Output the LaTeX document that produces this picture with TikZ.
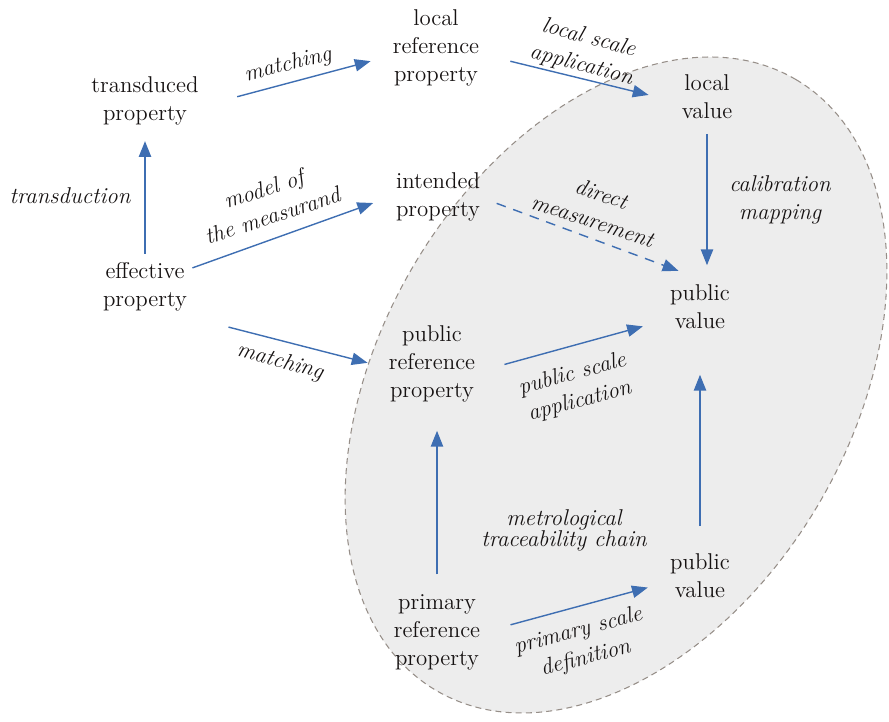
\documentclass[tikz,border=0pt]{standalone}
\usepackage{fontspec}
\usepackage{tikz}
\usetikzlibrary{arrows.meta,calc}

\definecolor{arrowblue}{RGB}{62,110,178}
\definecolor{zonegray}{RGB}{237,237,237}
\definecolor{zoneline}{RGB}{150,142,136}
\definecolor{inkdark}{RGB}{22,18,18}

\begin{document}
\begin{tikzpicture}[
  every node/.style={font=\fontsize{13}{16}\selectfont, text=inkdark},
  prop/.style={align=center, inner sep=2pt},
  lbl/.style={align=center, inner sep=1pt, font=\fontsize{13}{16}\selectfont\itshape},
  arr/.style={draw=arrowblue, line width=0.8pt, -{Triangle[length=9pt,width=7pt]}, arrowblue}
]

\useasboundingbox (0,0) rectangle (17.78,14.44);

% =========================
% PUBLIC ZONE
% =========================
\draw[fill=zonegray, draw=zoneline, line width=0.6pt, dash pattern=on 3.4pt off 2.4pt]
  (12.32,6.74) ellipse [x radius=7.09, y radius=4.70, rotate=59.5];

% =========================
% PROPERTIES AND VALUES
% =========================
\node[prop] (transduced) at (2.90,12.42) {transduced\\property};
\node[prop] (effective) at (2.90,8.70) {effective\\property};
\node[prop] (localref) at (8.72,13.48) {local\\reference\\property};
\node[prop] (localval) at (14.14,12.50) {local\\value};
\node[prop] (intended) at (8.76,10.50) {intended\\property};
\node[prop] (publicval) at (14.00,8.30) {public\\value};
\node[prop] (publicref) at (8.64,7.16) {public\\reference\\property};
\node[prop] (primaryref) at (8.74,1.80) {primary\\reference\\property};
\node[prop] (publicvaltwo) at (14.00,2.92) {public\\value};

% =========================
% ARROWS
% =========================
\draw[arr, shorten <=2.8pt, shorten >=6.8pt] (effective.north) -- (transduced.south);
\draw[arr, shorten <=20.5pt, shorten >=10.8pt] (transduced.-5) -- (localref.190);
\draw[arr, shorten <=16pt, shorten >=17.2pt] (localref.-8) -- (localval.190);
\draw[arr, shorten <=1pt, shorten >=11.5pt] (effective.22) -- (intended.179);
\draw[arr, dash pattern=on 5.5pt off 4.5pt, shorten <=7.8pt, shorten >=16.7pt] (intended.-2) -- (publicval.77);
\draw[arr, shorten <=6.2pt, shorten >=9pt] (localval.south) -- (localval.south |- publicval.north);
\draw[arr, shorten <=27pt, shorten >=10.2pt] (effective.-37) -- (publicref.184);
\draw[arr, shorten <=15pt, shorten >=13.8pt] (publicref.-9) -- (publicval.201);
\draw[arr, shorten <=9pt, shorten >=14pt] (primaryref.north) -- (primaryref.north |- publicref.south);
\draw[arr, shorten <=13.6pt, shorten >=23.8pt] (publicvaltwo.north) -- (publicval.south);
\draw[arr, shorten <=15.6pt, shorten >=10.9pt] (primaryref.east) -- (publicvaltwo.191);

% =========================
% ARROW LABELS
% =========================
\node[lbl] (ltransduction) at (1.40,10.52) {transduction};
\node[lbl, rotate=14] (lmatchtop) at (5.76,13.14) {matching};
\node[lbl, rotate=-15] (llocalscale) at (11.70,13.40) {local scale\\application};
\node[lbl, rotate=18] (lmodel) at (5.36,10.40) {model of\\the measurand};
\node[lbl, rotate=-18] (ldirect) at (11.94,10.30) {direct\\measurement};
\node[lbl] (lcalib) at (15.60,10.44) {calibration\\mapping};
\node[lbl, rotate=-15] (lmatchlow) at (5.60,7.20) {matching};
\node[lbl, rotate=15] (lpublicscale) at (11.52,6.68) {public scale\\application};
\node[lbl] (lmetro) at (11.28,3.84) {metrological\\[-4pt]traceability chain};
\node[lbl, rotate=15] (lprimaryscale) at (11.64,1.54) {primary scale\\definition};

\end{tikzpicture}
\end{document}
